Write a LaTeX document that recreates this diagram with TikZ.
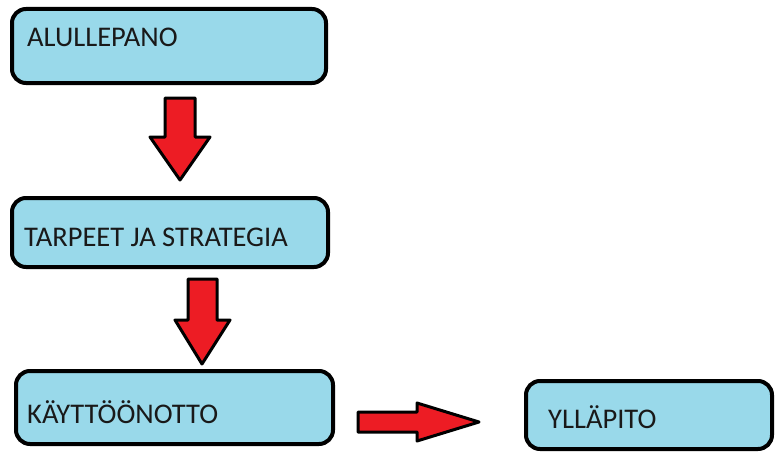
\documentclass[tikz,border=0pt]{standalone}
\usepackage{fontspec}
\setmainfont{Carlito}
\definecolor{boxfill}{HTML}{99D9EA}
\definecolor{arrowred}{HTML}{ED1C24}
\begin{document}
\begin{tikzpicture}[x=1pt,y=-1pt,
  stage/.style={draw=black, line width=4pt, fill=boxfill, rounded corners=14pt},
  stagetext/.style={anchor=base west, inner sep=0pt, font=\fontsize{28.5}{31}\selectfont, text=black!90},
  blockarrow/.style={draw=black, line width=3pt, fill=arrowred, line join=round}]
  \useasboundingbox (0,0) rectangle (776,452);

  % stage boxes
  \draw[stage] (12,9) rectangle (326,83);
  \node[stagetext] (t1) at (27,47) {ALULLEPANO};

  \draw[stage] (12,198) rectangle (328,267);
  \node[stagetext] (t2) at (24,246) {TARPEET JA STRATEGIA};

  \draw[stage] (16,371) rectangle (333,444);
  \node[stagetext] (t3) at (27,423) {KÄYTTÖÖNOTTO};

  \draw[stage] (526,381) rectangle (772,449);
  \node[stagetext] (t4) at (548,428) {YLLÄPITO};

  % block arrows between stages
  \draw[blockarrow] (165,98) -- (195,98) -- (195,137) -- (210,137) -- (180,180)
    -- (150,137) -- (165,137) -- cycle;
  \draw[blockarrow] (188,279) -- (217,279) -- (217,320) -- (230,320) -- (202,364)
    -- (175,320) -- (188,320) -- cycle;
  \draw[blockarrow] (358,412) -- (417,412) -- (417,403) -- (479,422) -- (417,441)
    -- (417,432) -- (358,432) -- cycle;
\end{tikzpicture}
\end{document}
